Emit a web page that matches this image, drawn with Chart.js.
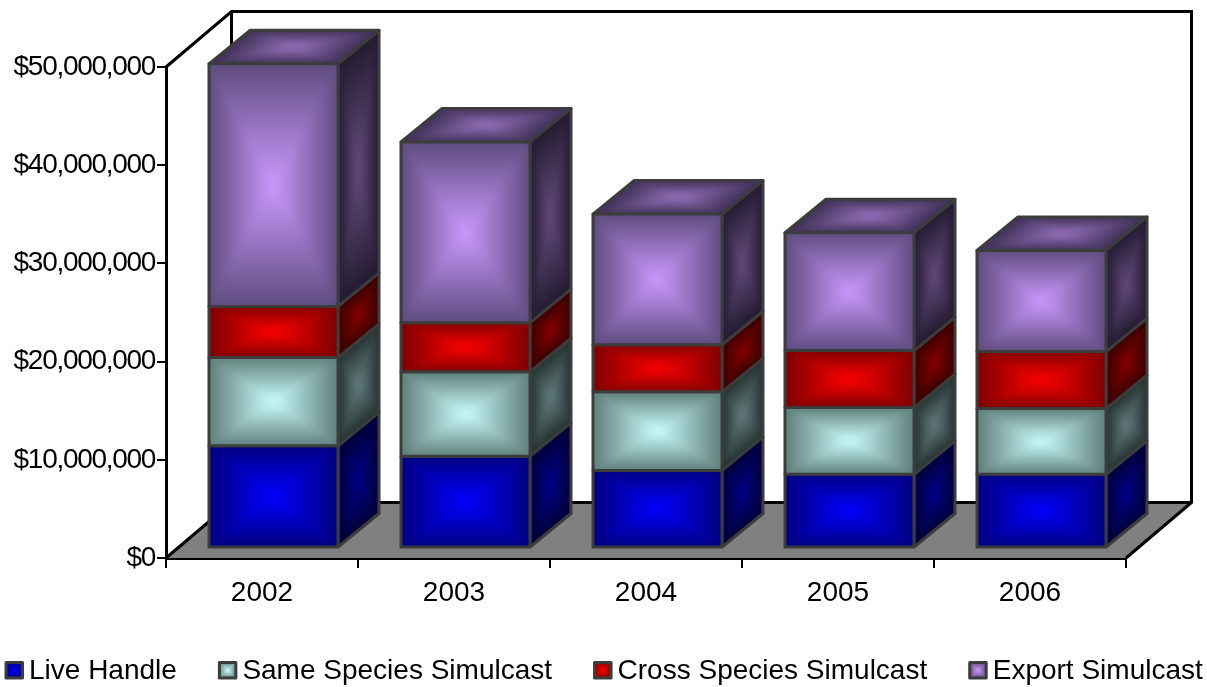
<!DOCTYPE html>
<html lang="en">
<head>
<meta charset="UTF-8">
<title>Handle by year</title>
<style>
  html, body { margin: 0; padding: 0; background: #fff; }
  canvas { display: block; }
</style>
</head>
<body>
<canvas id="chart" width="1207" height="687"></canvas>
<script src="https://cdn.jsdelivr.net/npm/chart.js"></script>
<script>
// values, in $ millions
const years = ['2002', '2003', '2004', '2005', '2006'];
const liveHandle = [10.4, 9.35, 7.9, 7.5, 7.5];
const sameSpecies = [9.0, 8.6, 8.0, 6.8, 6.7];
const crossSpecies = [5.2, 5.0, 4.8, 5.8, 5.8];
const exportSimulcast = [24.7, 18.4, 13.3, 12.0, 10.3];
const seriesNames = ['Live Handle', 'Same Species Simulcast', 'Cross Species Simulcast', 'Export Simulcast'];
const seriesValues = [liveHandle, sameSpecies, crossSpecies, exportSimulcast];

// face colours: [edge, centre] as rgb
const frontColors = [
  [[0, 0, 128], [0, 0, 255]],
  [[96, 128, 124], [204, 255, 255]],
  [[128, 0, 0], [255, 0, 0]],
  [[96, 77, 128], [204, 153, 255]]
];
const sideColors = [
  [[0, 0, 56], [0, 0, 140]],
  [[38, 52, 50], [102, 128, 128]],
  [[56, 0, 0], [140, 0, 0]],
  [[36, 28, 50], [102, 77, 128]]
];
const topEdge = [64, 50, 88];
const topCentre = [153, 115, 191];
const outline = '#3c3c3c';
const fontFamily = "'Liberation Sans', Arial, sans-serif";

// 3D look: bars sit a bit into the floor, and have some depth
const wallDx = 65.5, wallDy = -55.5;
const barDx = 11.5, barDy = -10;
const depthDx = 41, depthDy = -33.5;

const scratch = document.createElement('canvas');
scratch.width = 1207;
scratch.height = 687;

function mix(a, b, t) {
  return 'rgb(' + a.map((v, i) => Math.round(v + (b[i] - v) * t)).join(',') + ')';
}

function tracePoly(ctx, pts) {
  ctx.beginPath();
  pts.forEach((p, i) => i ? ctx.lineTo(p[0], p[1]) : ctx.moveTo(p[0], p[1]));
  ctx.closePath();
}

// rectangular path gradient: shrink the quad toward its centre, soften, clip
function shadedQuad(ctx, pts, edge, centre, blur) {
  const cx = (pts[0][0] + pts[1][0] + pts[2][0] + pts[3][0]) / 4;
  const cy = (pts[0][1] + pts[1][1] + pts[2][1] + pts[3][1]) / 4;
  const sctx = scratch.getContext('2d');
  sctx.clearRect(0, 0, scratch.width, scratch.height);
  const steps = 70;
  for (let s = 0; s < steps; s++) {
    const t = s / steps;
    sctx.fillStyle = mix(edge, centre, t);
    tracePoly(sctx, pts.map(p => [cx + (p[0] - cx) * (1 - t), cy + (p[1] - cy) * (1 - t)]));
    sctx.fill();
  }
  ctx.save();
  tracePoly(ctx, pts);
  ctx.fillStyle = mix(edge, edge, 0);
  ctx.fill();
  ctx.clip();
  ctx.filter = 'blur(' + blur + 'px)';
  ctx.drawImage(scratch, 0, 0);
  ctx.restore();
  tracePoly(ctx, pts);
  ctx.lineWidth = 3;
  ctx.lineJoin = 'round';
  ctx.strokeStyle = outline;
  ctx.stroke();
}

const box3d = {
  id: 'box3d',
  beforeDraw(chart) {
    // the value axis labels are set tighter than the rest
    const y = chart.scales.y;
    if (!y.tightLabels) {
      const drawLabels = y.drawLabels;
      y.drawLabels = function (area) {
        y.ctx.letterSpacing = '-1.3px';
        drawLabels.call(y, area);
        y.ctx.letterSpacing = '0px';
      };
      y.tightLabels = true;
    }
  },
  beforeDatasetsDraw(chart) {
    const ctx = chart.ctx, a = chart.chartArea;
    // floor
    ctx.save();
    ctx.fillStyle = '#808080';
    tracePoly(ctx, [[a.left, a.bottom], [a.left + wallDx, a.bottom + wallDy], [a.right + wallDx, a.bottom + wallDy], [a.right, a.bottom]]);
    ctx.fill();
    // back wall and the slanted edges
    ctx.strokeStyle = '#000';
    ctx.lineWidth = 3;
    ctx.beginPath();
    ctx.moveTo(a.left, a.top);
    ctx.lineTo(a.left + wallDx, a.top + wallDy);
    ctx.lineTo(a.right + wallDx, a.top + wallDy);
    ctx.lineTo(a.right + wallDx, a.bottom + wallDy);
    ctx.lineTo(a.right, a.bottom);
    ctx.moveTo(a.left + wallDx, a.top + wallDy);
    ctx.lineTo(a.left + wallDx, a.bottom + wallDy);
    ctx.lineTo(a.right + wallDx, a.bottom + wallDy);
    ctx.moveTo(a.left + wallDx, a.bottom + wallDy);
    ctx.lineTo(a.left, a.bottom);
    ctx.stroke();

    years.forEach((year, j) => {
      seriesValues.forEach((vals, i) => {
        const bar = chart.getDatasetMeta(i).data[j];
        const x0 = bar.x - bar.width / 2 + barDx, x1 = bar.x + bar.width / 2 + barDx;
        const yt = bar.y + barDy, yb = bar.base + barDy;
        shadedQuad(ctx, [[x1, yt], [x1 + depthDx, yt + depthDy], [x1 + depthDx, yb + depthDy], [x1, yb]], sideColors[i][0], sideColors[i][1], 3);
        if (i === seriesValues.length - 1) {
          shadedQuad(ctx, [[x0, yt], [x0 + depthDx, yt + depthDy], [x1 + depthDx, yt + depthDy], [x1, yt]], topEdge, topCentre, 3);
        }
        shadedQuad(ctx, [[x0, yt], [x1, yt], [x1, yb], [x0, yb]], frontColors[i][0], frontColors[i][1], 3);
      });
    });
    ctx.restore();
  },
  afterDraw(chart) {
    // legend row, the built-in one wraps at these gaps
    const ctx = chart.ctx;
    ctx.save();
    ctx.font = '28px ' + fontFamily;
    ctx.textBaseline = 'middle';
    let x = 4.5;
    seriesNames.forEach((name, i) => {
      shadedQuad(ctx, [[x + 1.5, 662.5], [x + 18, 662.5], [x + 18, 678], [x + 1.5, 678]], frontColors[i][0], frontColors[i][1], 0);
      ctx.fillStyle = '#000';
      ctx.fillText(name, x + 24.5, 671);
      x += 24.5 + ctx.measureText(name).width + 41;
    });
    ctx.restore();
  }
};

new Chart(document.getElementById('chart'), {
  type: 'bar',
  data: {
    labels: years,
    datasets: seriesNames.map((name, i) => ({
      label: name,
      data: seriesValues[i],
      backgroundColor: 'transparent',
      borderWidth: 0,
      barPercentage: 1,
      categoryPercentage: 129 / 192
    }))
  },
  plugins: [box3d],
  options: {
    responsive: false,
    animation: false,
    events: [],
    layout: { padding: { top: 67, right: 81, left: 0, bottom: 0 } },
    plugins: {
      tooltip: { enabled: false },
      legend: { display: false }
    },
    scales: {
      x: {
        stacked: true,
        border: { color: '#000', width: 3 },
        grid: { drawOnChartArea: false, color: '#000', lineWidth: 2, tickLength: 10, offset: true },
        ticks: { color: '#000', padding: 8, maxRotation: 0, font: { family: fontFamily, size: 28 } },
        afterFit(scale) { scale.height = 129; }
      },
      y: {
        stacked: true,
        min: 0,
        max: 50,
        border: { color: '#000', width: 3 },
        grid: { drawOnChartArea: false, color: '#000', lineWidth: 2, tickLength: 9 },
        ticks: {
          stepSize: 10,
          color: '#000',
          padding: 2,
          font: { family: fontFamily, size: 28 },
          callback: v => '$' + (v * 1000000).toLocaleString('en-US')
        },
        afterFit(scale) { scale.width = 166; }
      }
    }
  }
});
</script>
</body>
</html>
